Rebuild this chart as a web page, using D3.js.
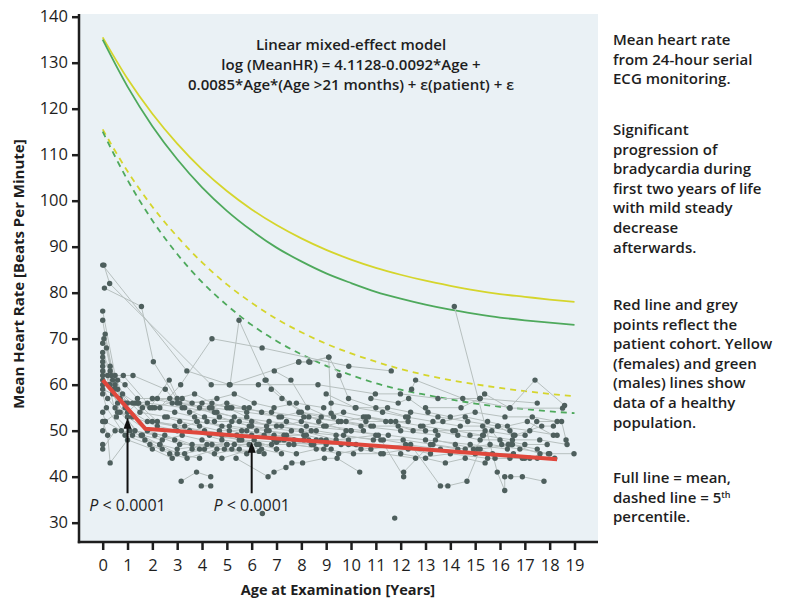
<!DOCTYPE html>
<html>
<head>
<meta charset="utf-8">
<script src="https://cdn.jsdelivr.net/npm/d3@7"></script>
<style>
  html, body { margin: 0; padding: 0; background: #ffffff; }
  svg { display: block; }
  text { font-family: "Open Sans", "Noto Sans", sans-serif; fill: #1e1e1e; }
</style>
</head>
<body>
<svg id="chart" width="786" height="599"></svg>
<script>
// ---------------- DATA ----------------
const ages = d3.range(0, 20); // 0..19 years
const yTicks = [30, 40, 50, 60, 70, 80, 90, 100, 110, 120, 130, 140];
const xTicks = d3.range(0, 20);

// healthy population reference curves (at each integer age)
const femaleMean = [135.5,126.5,118.9,112.4,106.8,102.1,98.1,94.7,91.8,89.3,87.2,85.4,83.9,82.6,81.5,80.5,79.7,79.1,78.5,78.0];
const maleMean   = [135.0,124.8,116.2,109.0,102.9,97.8,93.5,89.8,86.8,84.2,82.1,80.2,78.7,77.4,76.3,75.4,74.6,74.0,73.5,73.0];
const femaleP5   = [115.5,106.4,98.7,92.2,86.6,81.8,77.8,74.3,71.4,68.9,66.8,65.0,63.4,62.1,61.0,60.1,59.3,58.6,58.0,57.5];
const maleP5     = [115.0,104.5,95.7,88.4,82.3,77.3,73.0,69.5,66.6,64.1,62.1,60.3,58.9,57.8,56.8,55.9,55.2,54.7,54.2,53.8];

// patient cohort model (red line): [age, HR]
const modelLine = [[0, 61.0], [1.72, 50.4], [18.3, 43.8]];

// arrows for p-values: [age, tipHR, baseHR]
const arrows = [[1, 52.8, 36.4], [6, 47.6, 36.4]];
const pLabels = [[1, 0.0001], [6, 0.0001]];

// individual patients: sequences of [age, meanHR]
const patients = [
  [[0,86],[3.39,63],[5.1,60],[7.9,65],[8.3,65],[9.1,66],[9.2,53.8],[10.6,52],[12.3,52]],
  [[0.05,86],[0.28,82],[4.37,60],[6.27,60],[8.67,60],[10.98,58],[11.99,58],[13.5,57],[15.2,57],[17.5,56]],
  [[0.07,81],[1.56,77],[2.04,65],[3.2,55],[4.1,53],[5.5,52],[7.0,51],[8.4,50]],
  [[0,76],[0.5,62],[1.22,62],[2.52,59],[3.0,56],[4.4,55],[5.8,54],[7.2,53],[9.0,51],[10.5,50]],
  [[0,74],[0.4,61],[0.9,56],[1.9,55],[2.68,61],[3.1,56],[4.6,54],[6.0,52],[8.0,50],[9.4,48],[11.0,49]],
  [[0.1,71],[0.5,60],[1.0,56],[2.3,55],[3.14,60],[4.4,70],[6.42,68],[9.91,64],[11.62,63]],
  [[0.05,70],[0.3,64],[0.8,58],[1.6,55],[2.2,52],[3.5,50],[4.8,48],[6.2,47],[7.5,47],[9.2,46]],
  [[0,69],[0.15,68],[0.6,59],[1.5,54],[2.6,53],[3.8,52],[5.1,51],[6.6,50],[8.1,49]],
  [[0,67],[0.3,63],[0.7,57],[1.3,56],[2.0,52],[3.3,51],[4.3,49],[5.6,48],[7.0,47.5],[8.5,47]],
  [[0,66],[0.35,62],[1.0,54],[1.4,56],[2.7,57],[4.0,56],[5.2,55],[6.8,54],[8.1,53],[9.5,52],[10.8,51]],
  [[0,65],[0.25,60],[0.55,53],[1.1,50],[2.5,49],[3.6,47],[4.9,46],[6.5,45]],
  [[0,64],[0.45,59],[0.9,55],[1.8,52],[2.9,51],[4.1,50],[5.4,49],[7.1,48],[8.8,48],[10.2,47]],
  [[0,63],[0.2,62],[0.7,54],[1.55,49],[2.3,47],[3.0,46],[4.4,47],[5.2,46],[6.3,45.5]],
  [[0,62],[0.6,56],[1.45,56],[2.1,55],[3.2,57],[3.9,55],[4.7,53],[5.9,51],[7.6,50],[9.4,49],[11.2,48]],
  [[0,61],[0.3,60],[0.83,62],[1.8,56],[3.3,55],[4.5,54],[5.3,53],[6.7,52],[8.2,51],[10.0,50]],
  [[0,60],[0.2,57],[0.5,55],[1.0,53],[1.8,50],[2.9,48],[3.9,46],[4.8,44],[6.0,46]],
  [[0,59],[0.4,58],[1.3,50],[2.1,49],[3.1,47],[4.2,47],[5.3,47],[6.4,46],[7.2,45]],
  [[0,58],[0.15,55],[0.9,49],[1.9,47],[2.7,45],[3.4,44],[4.6,46],[5.8,45]],
  [[0,54],[0.1,52],[0.75,50],[1.6,49],[2.4,48],[3.2,49],[4.0,48],[5.0,47],[6.1,48],[7.0,46]],
  [[0,52],[0.2,49],[0.3,43],[1.0,48],[2.0,46],[2.8,44],[3.6,46],[4.5,45],[5.5,46]],
  [[0,50],[0.1,52],[0.6,54],[1.2,53],[2.2,51],[3.0,50],[3.8,52],[4.8,51],[5.8,50],[6.9,49],[8.3,48]],
  [[0,47],[0,46],[0.5,50],[1.2,49],[2.3,47],[3.0,45],[3.9,44]],
  [[3.16,39],[3.78,41],[4.35,40]],
  [[3.97,38],[4.35,38]],
  [[5.13,60],[5.49,74],[6.58,61],[6.79,59],[7.22,57],[8.0,54],[9.3,53]],
  [[6.91,63],[7.58,61],[8.25,55],[9.5,52],[10.4,51],[12.0,50],[13.5,49]],
  [[6.54,61],[7.52,56],[8.7,52],[9.8,50],[11.5,49],[13.0,48],[14.8,47],[16.3,46]],
  [[7.89,64.9],[8.34,64.9],[9.11,66],[9.52,62],[9.9,57],[11.0,55],[12.3,53]],
  [[5.0,55],[5.8,53],[6.6,51],[7.4,52],[8.6,50],[9.7,49],[10.9,48],[12.1,48],[13.3,47],[14.6,46]],
  [[4.2,52],[5.1,50],[6.0,49],[7.3,48],[8.4,47],[9.6,47],[10.8,46],[12.2,47],[13.6,46],[15.0,45]],
  [[6.2,50],[6.9,48],[7.7,47],[8.9,46],[10.1,45],[11.3,45],[12.6,44],[14.0,45],[15.5,44],[17.0,44]],
  [[5.37,44],[6.66,40],[6.90,41],[7.38,42],[7.62,43],[8.05,43],[8.93,44],[9.44,44],[10.35,41]],
  [[6.43,32]],
  [[11.76,31]],
  [[9.2,56],[10.2,55],[11.47,55],[12.4,54],[13.5,53],[14.7,52],[15.9,51],[17.2,50],[18.3,49]],
  [[8.3,53],[9.6,52],[10.7,53],[11.8,52],[12.9,51],[14.1,50],[15.4,50],[16.6,49],[17.68,51],[18.15,51]],
  [[10.0,50],[11.1,49],[12.12,40],[12.12,41],[13.2,47],[14.3,46],[15.6,47],[16.8,46],[18.0,45]],
  [[11.3,48],[12.4,47],[13.6,38],[13.9,38],[14.67,39],[15.2,46],[16.5,47],[17.5,46]],
  [[14.16,77],[15.89,41],[16.19,37],[16.19,40],[16.43,40],[16.9,40],[17.77,39]],
  [[12.44,59],[12.6,61],[14.5,57],[16.4,55],[17.41,61],[18.6,55.5]],
  [[13.0,55],[14.43,55],[15.19,57],[15.38,58],[16.4,54.9],[18.52,54.9]],
  [[14.79,49],[15.33,49],[15.93,51],[16.54,49],[17.01,49],[17.48,52],[18.48,52],[18.66,48]],
  [[14.93,46],[15.67,50],[16.07,47],[16.33,47],[16.47,47],[17.61,45],[17.95,45],[18.98,45]],
  [[13.4,48],[14.2,47],[15.1,46],[15.7,45],[16.54,45],[17.2,44],[18.2,44]],
  [[12.8,51],[13.7,52],[14.6,53],[15.5,52],[16.3,51],[17.1,52],[18.15,49]],
  [[10.5,53],[11.4,52],[12.5,50],[13.4,50],[14.3,49],[15.2,48],[16.0,48],[17.0,47],[17.9,47]],
  [[3.5,54],[4.3,55],[5.0,56],[5.7,55],[6.4,54],[7.1,53],[7.9,54],[8.8,53],[9.7,54],[10.6,53],[11.6,52]],
  [[2.0,57],[2.8,56],[3.6,56],[4.6,57],[5.3,58],[6.1,56],[6.9,55],[7.8,56],[8.9,55]],
  [[1.2,56],[2.0,55],[2.9,54],[3.7,53],[4.5,52],[5.2,52],[6.0,51],[6.7,50],[7.4,49],[8.2,49],[9.0,48],[9.9,48]],
  [[4.8,49],[5.5,48],[6.3,47],[7.0,46],[7.8,45],[8.6,46],[9.5,45],[10.4,46],[11.2,45],[12.3,46],[13.2,45]],
  [[9.0,58],[10.17,55],[11.27,54],[12.2,53],[13.3,52],[14.4,51],[15.3,51],[16.4,50]],
  [[10.8,57],[11.9,56],[12.32,57],[13.1,54],[14.0,53],[15.0,54],[16.2,53],[17.3,53],[18.3,52]],
  [[15.8,44],[16.4,44],[16.9,44],[17.5,44]],
  [[12.0,45],[13.0,44],[13.8,43],[14.6,44],[15.4,43]],
  [[7.2,51],[8.0,52],[8.9,51],[9.8,52],[10.9,51],[11.9,51],[13.0,50],[14.2,50],[15.3,49],[16.5,48],[17.6,48],[18.7,47]],
  [[2.5,53],[3.1,52],[3.9,51],[4.7,50],[5.6,50],[6.5,49],[7.3,49],[8.1,48],[9.0,47],[9.9,47]],
  [[1.7,48],[2.4,46],[3.3,45],[4.1,46],[5.0,47],[5.9,47],[6.8,47],[7.7,48],[8.6,48]],
  [[0.6,61],[0.9,60],[1.4,57],[2.2,57],[3.0,57],[3.7,58],[4.4,56],[5.1,55],[5.9,55]]
];

// texts
const titleLines = ["Linear mixed-effect model", "log (MeanHR) = 4.1128-0.0092*Age +", "0.0085*Age*(Age >21 months) + ε(patient) + ε"];
const xTitle = "Age at Examination [Years]";
const yTitle = "Mean Heart Rate [Beats Per Minute]";
const notes = [
  ["Mean heart rate", "from 24-hour serial", "ECG monitoring."],
  ["Significant", "progression of", "bradycardia during", "first two years of life", "with mild steady", "decrease", "afterwards."],
  ["Red line and grey", "points reflect the", "patient cohort. Yellow", "(females) and green", "(males) lines show", "data of a healthy", "population."],
  ["Full line = mean,", "dashed line = 5^th", "percentile."]
];

// ---------------- DRAW ----------------
const svg = d3.select("#chart");
const x = d3.scaleLinear().domain([0, 19]).range([102.7, 574.5]);
const y = d3.scaleLinear().domain([25.8, 140]).range([542, 16.7]);

const colors = { yellow: "#d5d52c", green: "#4ea95c", red: "#e0473c", point: "#4e5f5d", link: "#b7c0bf", axis: "#1e1e1e" };

// panel background
svg.append("rect").attr("x", 80).attr("y", 14).attr("width", 518).attr("height", 528).attr("fill", "#eaf1f5");

// equation
const eq = svg.append("text").attr("text-anchor", "middle").attr("font-size", 15).attr("font-weight", 600);
titleLines.forEach((t, i) => eq.append("tspan").attr("x", 351).attr("y", 50 + i * 19.8).text(t));

// reference curves
const curveLine = d3.line().x(d => x(d[0])).y(d => y(d[1])).curve(d3.curveMonotoneX);
const refs = [
  { v: femaleMean, c: colors.yellow, dash: null },
  { v: maleMean, c: colors.green, dash: null },
  { v: femaleP5, c: colors.yellow, dash: "6,5" },
  { v: maleP5, c: colors.green, dash: "6,5" }
];
refs.forEach(r => {
  svg.append("path")
    .datum(ages.map((a, i) => [a, r.v[i]]))
    .attr("d", curveLine)
    .attr("fill", "none")
    .attr("stroke", r.c)
    .attr("stroke-width", 1.8)
    .attr("stroke-dasharray", r.dash);
});

// patient trajectories
const straight = d3.line().x(d => x(d[0])).y(d => y(d[1]));
const pg = svg.append("g");
pg.selectAll("path.traj").data(patients).join("path")
  .attr("class", "traj")
  .attr("d", straight)
  .attr("fill", "none")
  .attr("stroke", colors.link)
  .attr("stroke-width", 1);
pg.selectAll("circle").data(patients.flat()).join("circle")
  .attr("cx", d => x(d[0])).attr("cy", d => y(d[1])).attr("r", 2.7)
  .attr("fill", colors.point);

// model line
svg.append("path").datum(modelLine).attr("d", straight)
  .attr("fill", "none").attr("stroke", colors.red).attr("stroke-width", 4).attr("stroke-linejoin", "round");

// arrows
arrows.forEach(a => {
  const ax = x(a[0]), tip = y(a[1]), base = y(a[2]);
  svg.append("line").attr("x1", ax).attr("x2", ax).attr("y1", base).attr("y2", tip + 8)
    .attr("stroke", "#111").attr("stroke-width", 2);
  svg.append("path").attr("d", `M${ax},${tip} L${ax - 4},${tip + 11} L${ax + 4},${tip + 11} Z`).attr("fill", "#111");
});
pLabels.forEach(p => {
  const t = svg.append("text").attr("x", x(p[0])).attr("y", 511).attr("text-anchor", "middle")
    .attr("font-size", 16).attr("font-weight", 500);
  t.append("tspan").attr("font-style", "italic").text("P");
  t.append("tspan").text(" < " + p[1].toFixed(4));
});

// axes
const yAxis = d3.axisLeft(y).tickValues(yTicks).tickSize(7).tickSizeOuter(0).tickPadding(4);
const gy = svg.append("g").attr("transform", "translate(79,0)").call(yAxis);
const xAxis = d3.axisBottom(x).tickValues(xTicks).tickSize(8).tickSizeOuter(0).tickPadding(9);
const gx = svg.append("g").attr("transform", "translate(0,542)").call(xAxis);
[gx, gy].forEach(g => {
  g.select(".domain").remove();
  g.selectAll(".tick line").attr("stroke", colors.axis).attr("stroke-width", 2.5);
  g.selectAll(".tick text").attr("font-size", 16.5).attr("font-weight", 500).attr("fill", colors.axis)
    .attr("font-family", "'Open Sans', sans-serif");
});
svg.append("line").attr("x1", 79).attr("x2", 79).attr("y1", 14).attr("y2", 543.2).attr("stroke", colors.axis).attr("stroke-width", 2.5);
svg.append("line").attr("x1", 77.8).attr("x2", 598).attr("y1", 542).attr("y2", 542).attr("stroke", colors.axis).attr("stroke-width", 2.5);

// axis titles
svg.append("text").attr("x", 338).attr("y", 595).attr("text-anchor", "middle")
  .attr("font-size", 14.5).attr("font-weight", 700).text(xTitle);
svg.append("text").attr("transform", "translate(24,274) rotate(-90)").attr("text-anchor", "middle")
  .attr("font-size", 15).attr("font-weight", 700).text(yTitle);

// notes on the right
const starts = [45, 135, 310, 483];
notes.forEach((para, pi) => {
  para.forEach((line, li) => {
    const t = svg.append("text").attr("x", 613).attr("y", starts[pi] + li * 19.6)
      .attr("font-size", 15).attr("font-weight", 600);
    if (line.includes("^")) {
      const [a, b] = line.split("^");
      t.append("tspan").text(a);
      t.append("tspan").attr("font-size", 9).attr("dy", -5).text(b);
    } else {
      t.text(line);
    }
  });
});
</script>
</body>
</html>
